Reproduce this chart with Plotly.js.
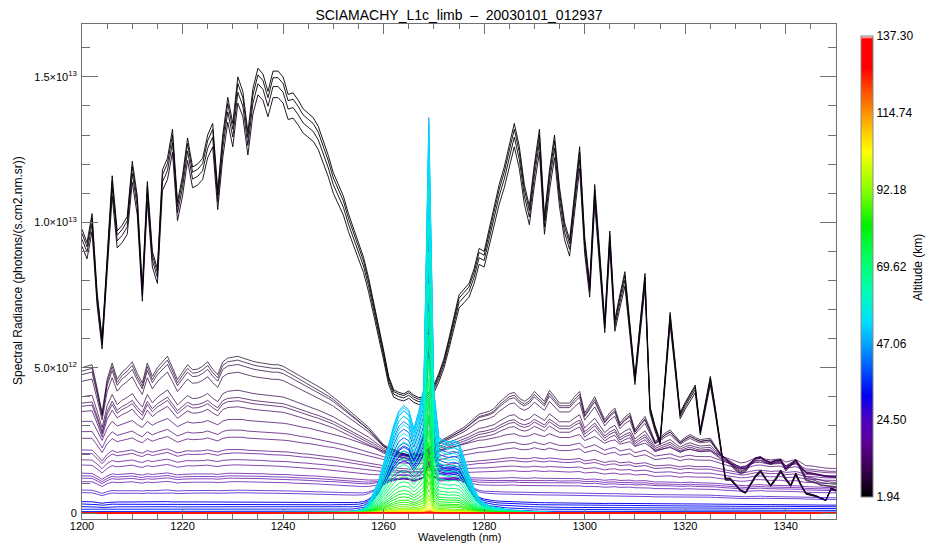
<!DOCTYPE html>
<html><head><meta charset="utf-8">
<script src="https://cdn.plot.ly/plotly-3.0.1.min.js"></script>
<style>html,body{margin:0;padding:0;background:#fff}#chart{width:926px;height:543px}</style>
</head><body><div id="chart"></div>
<script>
// ---------------- DATA ----------------
const wavelength = [
1200,1201,1202,1203,1204,1205,1206,1207,1208,1209,
1210,1211,1212,1213,1214,1215,1216,1217,1218,1219,
1220,1221,1222,1223,1224,1225,1226,1227,1228,1229,
1230,1231,1232,1233,1234,1235,1236,1237,1238,1239,
1240,1241,1242,1243,1244,1245,1246,1247,1248,1249,
1250,1251,1252,1253,1254,1255,1256,1257,1258,1259,
1260,1261,1262,1263,1264,1265,1266,1267,1268,1269,
1270,1271,1272,1273,1274,1275,1276,1277,1278,1279,
1280,1281,1282,1283,1284,1285,1286,1287,1288,1289,
1290,1291,1292,1293,1294,1295,1296,1297,1298,1299,
1300,1301,1302,1303,1304,1305,1306,1307,1308,1309,
1310,1311,1312,1313,1314,1315,1316,1317,1318,1319,
1320,1321,1322,1323,1324,1325,1326,1327,1328,1329,
1330,1331,1332,1333,1334,1335,1336,1337,1338,1339,
1340,1341,1342,1343,1344,1345,1346,1347,1348,1349,
1350];
// lowest-tangent (black) spectrum, 1e12 photons/(s.cm2.nm.sr)
const refBlack = [
9.76,9.3,10.3,7.6,6.0,9.0,11.6,9.7,9.9,10.2,
12.1,10.9,7.75,11.4,9.0,8.4,11.8,12.2,13.2,10.7,
11.6,12.9,11.9,12.0,12.2,13.0,13.4,11.1,13.0,14.3,
13.4,15.0,14.5,13.1,14.6,15.3,15.1,14.5,15.2,15.2,
15.0,14.4,14.45,14.2,13.9,13.75,13.6,13.3,12.8,12.3,
11.7,11.3,10.9,10.3,9.8,9.3,8.8,8.1,7.3,6.5,
5.6,4.7,4.24,4.15,4.1,4.2,4.05,3.97,4.0,4.15,
4.4,4.8,5.3,6.0,6.8,7.5,7.7,7.9,8.4,9.1,
9.0,9.8,10.6,11.3,11.9,12.6,13.4,12.6,11.3,10.55,
12.0,13.2,10.2,11.8,13.0,11.2,10.0,9.4,11.0,12.6,
9.5,7.9,11.3,9.0,6.6,9.7,6.65,7.5,8.3,6.5,
4.7,6.5,8.24,3.66,3.0,2.5,4.7,6.9,5.2,3.45,
3.8,4.1,4.4,2.86,3.8,4.7,3.6,2.4,1.2,1.2,
1.0,0.8,0.72,1.0,1.3,1.48,1.2,0.97,1.2,1.48,
1.2,0.97,1.38,1.0,0.69,0.65,0.6,0.52,0.45,0.86,
0.8];
// upper purple spectrum (strong structure), 1e12 units
const refPurple = [
5.0,5.05,5.1,4.3,3.45,4.6,5.16,4.6,4.85,5.0,
5.2,4.8,4.47,5.16,4.7,5.0,5.2,5.39,5.0,4.59,
4.85,5.1,4.93,4.95,5.05,5.2,4.95,4.76,5.2,5.33,
5.36,5.39,5.33,5.27,5.22,5.18,5.15,5.12,5.1,5.1,
5.05,4.95,4.85,4.75,4.65,4.55,4.45,4.35,4.25,4.12,
4.0,3.85,3.7,3.55,3.4,3.25,3.1,2.95,2.75,2.55,
2.35,2.25,2.2,2.1,2.05,2.0,2.05,2.0,2.1,2.25,
2.35,2.45,2.55,2.65,2.75,2.85,2.95,3.1,3.25,3.4,
3.45,3.5,3.6,3.8,3.95,4.1,4.15,3.95,3.84,3.95,
4.18,4.0,3.84,4.22,4.0,3.78,3.78,3.78,4.0,4.18,
3.44,3.7,4.0,3.6,3.21,3.45,3.61,3.09,3.3,3.44,
2.86,3.1,3.32,2.9,2.46,2.6,2.75,2.86,2.65,2.46,
2.6,2.7,2.6,2.52,2.55,2.57,2.3,2.05,1.88,1.7,
1.5,1.37,1.45,1.7,1.9,1.94,1.8,1.71,1.8,1.83,
1.48,1.65,1.83,1.5,1.14,1.1,1.05,0.97,0.95,0.92,
0.91];
// weak-structure continuum (relative to 1200 nm)
const refSmooth = [
1.00,1.00,0.99,0.93,0.86,0.93,0.98,0.97,0.97,0.98,
0.99,0.97,0.96,0.98,0.97,0.98,0.99,1.00,0.98,0.96,
0.97,0.98,0.98,0.98,0.98,0.99,0.98,0.97,0.98,0.99,
0.99,0.99,0.99,0.98,0.98,0.98,0.98,0.97,0.97,0.97,
0.96,0.96,0.95,0.95,0.94,0.94,0.93,0.93,0.92,0.91,
0.91,0.90,0.89,0.88,0.87,0.86,0.85,0.84,0.83,0.82,
0.81,0.80,0.79,0.78,0.78,0.77,0.77,0.77,0.78,0.79,
0.80,0.81,0.82,0.83,0.84,0.85,0.86,0.86,0.87,0.87,
0.87,0.88,0.88,0.88,0.89,0.89,0.89,0.88,0.88,0.88,
0.89,0.88,0.88,0.88,0.88,0.87,0.87,0.87,0.87,0.87,
0.86,0.86,0.86,0.85,0.84,0.85,0.85,0.84,0.84,0.84,
0.83,0.83,0.83,0.82,0.81,0.81,0.81,0.81,0.80,0.79,
0.80,0.80,0.79,0.79,0.79,0.79,0.78,0.77,0.76,0.75,
0.74,0.73,0.73,0.74,0.75,0.75,0.74,0.74,0.74,0.74,
0.73,0.73,0.73,0.72,0.71,0.71,0.70,0.70,0.69,0.69,
0.69];
// O2(a1Δg) airglow emission, brightest limb spectrum, 1e12 units
const glowShape = [
0,0,0,0,0,0,0,0,0,0,
0,0,0,0,0,0,0,0,0,0,
0,0,0,0,0,0,0,0,0,0,
0,0,0,0,0,0,0,0,0,0,
0,0,0,0,0,0,0,0,0,0,
0.02,0.02,0.03,0.04,0.05,0.08,0.15,0.35,0.7,1.1,
1.7,2.4,3.0,3.5,3.7,3.55,2.9,3.5,4.3,13.6,
4.2,2.6,2.5,2.45,2.5,2.4,1.9,1.3,0.85,0.5,
0.35,0.25,0.2,0.16,0.13,0.1,0.08,0.07,0.06,0.05,
0.04,0.03,0.03,0.02,0.02,0.01,0,0,0,0,
0,0,0,0,0,0,0,0,0,0,
0,0,0,0,0,0,0,0,0,0,
0,0,0,0,0,0,0,0,0,0,
0,0,0,0,0,0,0,0,0,0,
0,0,0,0,0,0,0,0,0,0,
0];
const blackAlt   = [1.94, 2.6, 3.3, 4.0];
const blackScale = [1.0, 0.985, 0.965, 0.94];
const lineAlt = [6.0,6.7,7.4,8.1,9.0,9.8,10.5,11.2,12.3,13.3,14.2,15.4,16.2,17.0,17.8,19.2,20.0,20.8,21.6,26.0,27.0,
  31,32,33,34,35,36.5,38,39.5,41,43,45,47,49,51,53,55,57,59,61,63,65,67,69,71,73,75,77,79,81,83,85,87,89,
  92,95,98,101,105,110,115,120,126,132,137.3];
const lineLevel = [5.00,4.88,4.76,4.53,4.00,3.78,3.67,3.49,3.15,2.80,2.57,2.17,2.05,1.83,1.65,1.37,1.28,1.20,1.08,0.79,0.70,
  0.39,0.31,0.22,0.13,0.05,0.02,0.01,0,0,0,0,0,0,0,0,0,0,0,0,0,0,0,0,0,0,0,0,0,0,0,0,0,0,
  0,0,0,0,0,0,0,0,0,0,0];
const lineStruct = [1.0,1.0,0.95,0.9,0.75,0.7,0.7,0.65,0.4,0.35,0.3,0.2,0.2,0.15,0.15,0.1,0.1,0.1,0.1,0.05,0.05,
  0,0,0,0,0,0,0,0,0,0,0,0,0,0,0,0,0,0,0,0,0,0,0,0,0,0,0,0,0,0,0,0,0,
  0,0,0,0,0,0,0,0,0,0,0];
const lineGlow = [0,0,0,0,0,0,0,0,0,0,0,0,0,0.02,0.03,0.05,0.06,0.08,0.1,0.2,0.25,
  0.4,0.45,0.5,0.55,0.6,0.62,0.65,0.7,0.78,0.85,0.9,0.95,1.0,0.98,0.95,0.9,0.82,0.74,0.66,0.58,0.51,0.45,0.39,0.34,0.29,0.25,0.21,0.18,0.15,0.12,0.1,0.08,0.06,
  0.045,0.035,0.025,0.018,0.012,0.008,0.005,0.003,0.002,0.001,0];
const altMin = 1.94, altMax = 137.30;
const cbTickVals = [1.94, 24.50, 47.06, 69.62, 92.18, 114.74, 137.30];
const cbTickText = ['1.94','24.50','47.06','69.62','92.18','114.74','137.30'];
const yTickVals = [0, 5e12, 1e13, 1.5e13];
const yTickText = ['0','5.0×10<sup>12</sup>','1.0×10<sup>13</sup>','1.5×10<sup>13</sup>'];
const UNIT = 1e12;

// ---------------- STYLE ----------------
const cscale = [[0,'#000000'],[0.06,'#3a0050'],[0.12,'#5c0098'],[0.17,'#4a00c0'],[0.22,'#0000f0'],
  [0.28,'#0058ff'],[0.33,'#00a0ff'],[0.38,'#00e0ff'],[0.45,'#00ffb0'],[0.52,'#00ff60'],[0.59,'#00f000'],
  [0.67,'#90ff00'],[0.75,'#ffff00'],[0.82,'#ffa500'],[0.89,'#ff4000'],[0.93,'#ff0000'],[0.993,'#ff0000'],[1,'#ffffff']];
function hexToRgb(h){return [parseInt(h.slice(1,3),16),parseInt(h.slice(3,5),16),parseInt(h.slice(5,7),16)];}
function colorAt(alt){
  const f = Math.min(0.99, Math.max(0, (alt-altMin)/(altMax-altMin)));
  for (let i=1;i<cscale.length;i++){
    if (f<=cscale[i][0]){
      const a=cscale[i-1], b=cscale[i];
      const t=(f-a[0])/(b[0]-a[0]);
      const ca=hexToRgb(a[1]), cb=hexToRgb(b[1]);
      return 'rgb('+ca.map((v,k)=>Math.round(v+(cb[k]-v)*t)).join(',')+')';
    }
  }
  return cscale[cscale.length-1][1];
}
const FONT = 'Liberation Sans, Arial, Helvetica, sans-serif';
const AXC = '#707070';

const traces = [];
blackAlt.forEach((alt, j) => {
  traces.push({type:'scatter', mode:'lines', x:wavelength,
    y:refBlack.map(v => v*blackScale[j]*UNIT),
    line:{color:colorAt(alt), width:1}, opacity:0.9, hoverinfo:'skip', showlegend:false});
});
lineAlt.forEach((alt, j) => {
  const p0 = refPurple[0];
  const y = wavelength.map((w, i) => {
    const cont = lineLevel[j]*((1-lineStruct[j])*refSmooth[i] + lineStruct[j]*refPurple[i]/p0);
    return (cont + lineGlow[j]*glowShape[i])*UNIT;
  });
  traces.push({type:'scatter', mode:'lines', x:wavelength, y:y,
    line:{color:colorAt(alt), width:1}, opacity: alt < 29 ? 0.72 : 0.95,
    hoverinfo:'skip', showlegend:false});
});
// colour bar carrier
traces.push({type:'scatter', mode:'markers', x:[wavelength[0], wavelength[0]], y:[null, null],
  hoverinfo:'skip', showlegend:false,
  marker:{color:[altMin, altMax], cmin:altMin, cmax:altMax, colorscale:cscale, showscale:true, opacity:0,
    colorbar:{x:1.0332, xanchor:'left', xref:'paper', y:0.510, yanchor:'middle', yref:'paper',
      len:0.931, lenmode:'fraction', thickness:12, thicknessmode:'pixels',
      outlinewidth:1, outlinecolor:'#888', borderwidth:0, xpad:0, ypad:0,
      tickmode:'array', tickvals:cbTickVals, ticktext:cbTickText, ticks:'',
      tickfont:{family:FONT, size:12, color:'#000'}}}});

const layout = {
  width:926, height:543,
  margin:{l:82, r:90, t:24, b:24},
  paper_bgcolor:'#ffffff', plot_bgcolor:'#ffffff',
  showlegend:false,
  font:{family:FONT, size:11, color:'#000'},
  title:{text:'SCIAMACHY_L1c_limb\u00a0\u00a0–\u00a0\u00a020030101_012937', x:0.5, xref:'paper',
    y:1-15/543, yref:'container', yanchor:'middle', font:{family:FONT, size:14, color:'#000'}},
  xaxis:{range:[1200,1350], tickmode:'linear', tick0:1200, dtick:20, ticks:'inside', ticklen:10,
    tickcolor:AXC, tickwidth:1, showline:true, linecolor:AXC, linewidth:1, mirror:'ticks',
    showgrid:false, zeroline:false, ticklabelstandoff:-3, tickfont:{family:FONT, size:11, color:'#000'},
    minor:{tickmode:'linear', tick0:1200, dtick:5, ticks:'inside', ticklen:5, tickcolor:AXC, showgrid:false}},
  yaxis:{range:[-0.206e12, 16.82e12], tickmode:'array', tickvals:yTickVals, ticktext:yTickText,
    ticks:'inside', ticklen:16, tickcolor:AXC, tickwidth:1, showline:true, linecolor:AXC, linewidth:1,
    mirror:'ticks', showgrid:false, zeroline:false, ticklabelstandoff:2,
    tickfont:{family:FONT, size:11, color:'#000'},
    minor:{tickmode:'linear', tick0:0, dtick:1e12, ticks:'inside', ticklen:8, tickcolor:AXC, showgrid:false}},
  annotations:[
    {text:'Wavelength (nm)', xref:'paper', yref:'paper', x:0.5, y:-(536.5-519)/495, xanchor:'center', yanchor:'middle',
      showarrow:false, font:{family:FONT, size:11, color:'#000'}},
    {text:'Spectral Radiance (photons/(s.cm2.nm.sr))', xref:'paper', yref:'paper', x:(18-82)/754, y:(519-271)/495,
      xanchor:'center', yanchor:'middle', textangle:-90, showarrow:false, font:{family:FONT, size:12, color:'#000'}},
    {text:'Altitude (km)', xref:'paper', yref:'paper', x:(918-82)/754, y:(519-268)/495,
      xanchor:'center', yanchor:'middle', textangle:-90, showarrow:false, font:{family:FONT, size:12, color:'#000'}}
  ]
};
Plotly.newPlot('chart', traces, layout, {displayModeBar:false, staticPlot:true});
</script></body></html>
